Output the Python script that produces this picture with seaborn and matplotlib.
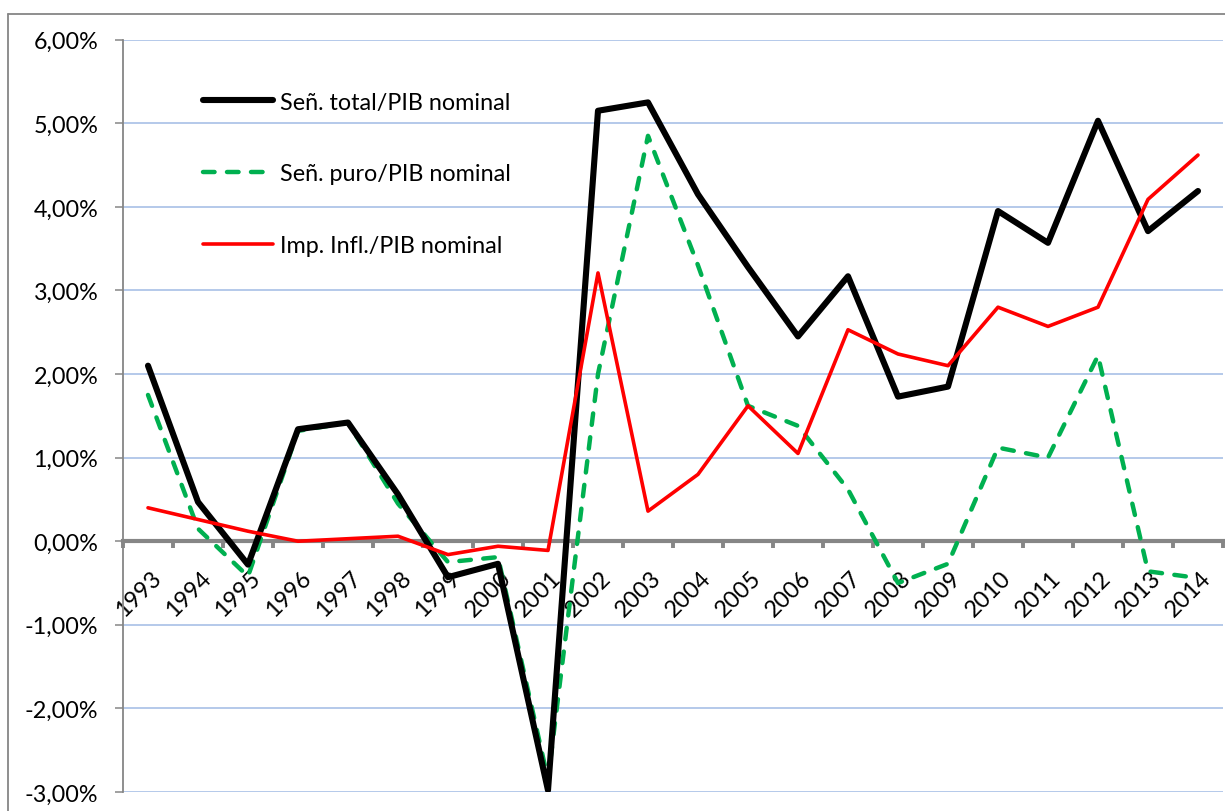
import numpy as np
import pandas as pd
import matplotlib
matplotlib.use("Agg")
import matplotlib.pyplot as plt
import seaborn as sns
from matplotlib.lines import Line2D
from matplotlib.ticker import FuncFormatter, FixedLocator
import matplotlib.transforms as mtransforms

years = [str(y) for y in range(1993, 2015)]
senor_total = [2.10, 0.47, -0.28, 1.34, 1.42, 0.56, -0.43, -0.27, -2.98, 5.15, 5.25,
               4.15, 3.28, 2.45, 3.17, 1.73, 1.85, 3.95, 3.57, 5.03, 3.71, 4.19]
senor_puro = [1.75, 0.15, -0.42, 1.32, 1.42, 0.45, -0.25, -0.19, -2.85, 2.00, 4.85,
              3.30, 1.62, 1.38, 0.62, -0.50, -0.27, 1.12, 1.00, 2.22, -0.36, -0.44]
imp_infl = [0.40, 0.26, 0.12, 0.00, 0.03, 0.06, -0.16, -0.06, -0.11, 3.21, 0.36,
            0.80, 1.62, 1.05, 2.53, 2.24, 2.10, 2.80, 2.57, 2.80, 4.09, 4.62]
series_names = ["Señ. total/PIB nominal", "Señ. puro/PIB nominal", "Imp. Infl./PIB nominal"]
yticks = [-3, -2, -1, 0, 1, 2, 3, 4, 5, 6]

sns.set_style("white")
plt.rcParams['font.family'] = ['Lato', 'DejaVu Sans']
plt.rcParams['text.color'] = 'black'
FS = 16.8
GRAY = "#868686"

fig = plt.figure(figsize=(12.25, 8.12), dpi=100)
W, H = 1225, 812
left, right, top, bottom = 123, 1223, 40.7, 793
ax = fig.add_axes([left / W, 1 - bottom / H, (right - left) / W, (bottom - top) / H])

idx = np.arange(len(years))
df = pd.DataFrame({"x": idx, "total": senor_total, "puro": senor_puro, "infl": imp_infl})

sns.lineplot(data=df, x="x", y="total", ax=ax, color="black", linewidth=4.4,
             solid_capstyle="round", solid_joinstyle="round", label=series_names[0], zorder=5)
sns.lineplot(data=df, x="x", y="puro", ax=ax, color="#00B050", linewidth=3.2,
             dashes=False, label=series_names[1], zorder=4)
ax.lines[-1].set_dashes([2.6, 2.8])
ax.lines[-1].set_dash_capstyle("round")
sns.lineplot(data=df, x="x", y="infl", ax=ax, color="#FF0000", linewidth=2.6,
             solid_capstyle="round", label=series_names[2], zorder=6)

ax.set_xlim(-0.5, len(years) - 0.5)
ax.set_ylim(-3, 6)
ax.set_xlabel("")
ax.set_ylabel("")

# y axis
ax.yaxis.set_major_locator(FixedLocator(yticks))
ax.yaxis.set_major_formatter(FuncFormatter(lambda v, p: f"{v:.2f}%".replace(".", ",")))
ax.tick_params(axis="y", which="major", direction="out", length=5.8, width=1.1,
               color=GRAY, pad=12, labelsize=FS, labelcolor="black", left=True)
ax.grid(axis="y", color="#a8c0e6", linewidth=1.2, zorder=0)
ax.grid(axis="x", visible=False)

# x axis at zero
ax.spines["bottom"].set_position(("data", 0))
ax.spines["bottom"].set_color(GRAY)
ax.spines["bottom"].set_linewidth(3.0)
ax.spines["bottom"].set_zorder(3)
ax.spines["left"].set_color(GRAY)
ax.spines["left"].set_linewidth(1.3)
ax.spines["top"].set_visible(False)
ax.spines["right"].set_visible(False)

ax.xaxis.set_major_locator(FixedLocator(np.arange(-0.5, len(years), 1.0)))
ax.xaxis.set_major_formatter(FuncFormatter(lambda v, p: ""))
ax.xaxis.set_minor_locator(FixedLocator(idx))
ax.set_xticklabels(years, minor=True)
ax.tick_params(axis="x", which="major", direction="out", length=5, width=2.8,
               color=GRAY, bottom=True)
ax.tick_params(axis="x", which="minor", length=0, pad=18, labelsize=FS,
               labelcolor="black", bottom=True)
shift = mtransforms.ScaledTranslation(2 / 100, 0, fig.dpi_scale_trans)
for lab in ax.get_xticklabels(minor=True):
    lab.set_rotation(45)
    lab.set_ha("right")
    lab.set_va("top")
    lab.set_rotation_mode("anchor")
    lab.set_transform(lab.get_transform() + shift)

leg = ax.legend(loc="upper left", bbox_to_anchor=(0.0727, 0.931), frameon=False,
                fontsize=FS, handlelength=3.0, handletextpad=0.28, labelspacing=2.17,
                borderpad=0, borderaxespad=0, labelcolor="black")

# outer chart border
fig.add_artist(Line2D([8 / W, 8 / W], [0, 1 - 14.7 / H], transform=fig.transFigure,
                      color=GRAY, linewidth=1.3))
fig.add_artist(Line2D([8 / W, 1], [1 - 14.7 / H, 1 - 14.7 / H], transform=fig.transFigure,
                      color=GRAY, linewidth=1.3))

fig.savefig("out.png", dpi=100)
